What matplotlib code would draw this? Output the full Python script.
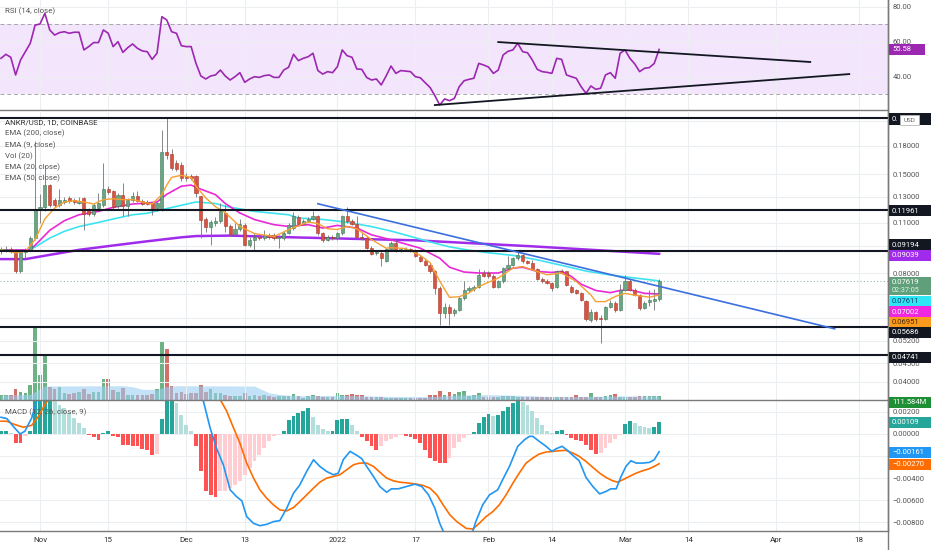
#!/usr/bin/env python
'''
ANKR/USD 1D (Coinbase) chart: RSI pane, candles with EMAs and volume, MACD pane
'''
import numpy as np
import pandas as pd
import matplotlib
matplotlib.use('Agg')
import matplotlib.pyplot as plt
import matplotlib.dates as mdates
from matplotlib.patches import Rectangle
from matplotlib.lines import Line2D
from matplotlib.ticker import FixedLocator, FuncFormatter, NullLocator, NullFormatter

plt.rcParams['font.family'] = ['Roboto', 'DejaVu Sans']

# ---------------- data ----------------
dates = pd.date_range('2021-10-24', periods=136, freq='D')

opens = [0.0925,0.0928,0.0935,0.0925,0.0811,0.0914,0.0927,0.0999,0.1197,0.1215,
         0.1398,0.1276,0.1236,0.1260,0.1289,0.1270,0.1249,0.1289,0.1197,0.1167,
         0.1209,0.1230,0.1368,0.1345,0.1223,0.1317,0.1223,0.1276,0.1308,0.1267,
         0.1257,0.1249,0.1209,0.1202,0.1728,0.1707,0.1611,0.1594,0.1487,0.1481,
         0.1481,0.1303,0.1130,0.1069,0.1099,0.1116,0.1172,0.1076,0.1028,0.1060,
         0.1088,0.0957,0.0985,0.1009,0.0999,0.1020,0.1016,0.1000,0.1000,0.1035,
         0.1065,0.1140,0.1095,0.1115,0.1130,0.1147,0.1031,0.0990,0.1009,0.1000,
         0.1031,0.1147,0.1111,0.1095,0.1009,0.1000,0.0937,0.0910,0.0910,0.0866,
         0.0930,0.0968,0.0925,0.0925,0.0930,0.0917,0.0888,0.0866,0.0843,0.0808,
         0.0727,0.0619,0.0646,0.0622,0.0633,0.0682,0.0719,0.0722,0.0730,0.0800,
         0.0800,0.0787,0.0734,0.0758,0.0825,0.0843,0.0878,0.0898,0.0861,0.0852,
         0.0820,0.0770,0.0762,0.0750,0.0730,0.0808,0.0808,0.0734,0.0719,0.0703,
         0.0670,0.0594,0.0626,0.0600,0.0598,0.0646,0.0660,0.0633,0.0719,0.0758,
         0.0719,0.0696,0.0640,0.0665,0.0668,0.0678]
highs = [0.0945,0.0950,0.0945,0.0935,0.0925,0.0940,0.1010,0.1850,0.1320,0.1594,
         0.1410,0.1290,0.1368,0.1300,0.1310,0.1290,0.1300,0.1300,0.1210,0.1250,
         0.1331,0.1611,0.1390,0.1360,0.1330,0.1419,0.1290,0.1340,0.1345,0.1280,
         0.1270,0.1260,0.1260,0.1993,0.2140,0.1760,0.1640,0.1620,0.1510,0.1500,
         0.1490,0.1310,0.1140,0.1120,0.1140,0.1250,0.1230,0.1090,0.1100,0.1130,
         0.1100,0.1009,0.1030,0.1025,0.1050,0.1035,0.1030,0.1020,0.1045,0.1100,
         0.1180,0.1160,0.1125,0.1145,0.1190,0.1160,0.1040,0.1020,0.1020,0.1040,
         0.1160,0.1215,0.1125,0.1150,0.1030,0.1010,0.0950,0.0925,0.0920,0.0940,
         0.0978,0.0985,0.0940,0.0945,0.0940,0.0930,0.0895,0.0875,0.0850,0.0815,
         0.0735,0.0660,0.0655,0.0640,0.0690,0.0758,0.0735,0.0740,0.0820,0.0815,
         0.0810,0.0795,0.0765,0.0830,0.0889,0.0885,0.0915,0.0905,0.0870,0.0870,
         0.0825,0.0778,0.0770,0.0755,0.0815,0.0820,0.0812,0.0740,0.0722,0.0708,
         0.0675,0.0635,0.0630,0.0612,0.0650,0.0672,0.0668,0.0745,0.0790,0.0770,
         0.0725,0.0700,0.0670,0.0719,0.0722,0.0770]
lows = [0.0905,0.0915,0.0910,0.0802,0.0802,0.0880,0.0920,0.0985,0.1100,0.1190,
        0.1220,0.1220,0.1220,0.1240,0.1250,0.1240,0.1240,0.1054,0.1150,0.1150,
        0.1190,0.1220,0.1320,0.1200,0.1210,0.1147,0.1147,0.1260,0.1255,0.1230,
        0.1230,0.1160,0.1190,0.1190,0.1650,0.1540,0.1530,0.1440,0.1440,0.1450,
        0.1300,0.0999,0.1040,0.0957,0.1080,0.1100,0.1040,0.1010,0.1015,0.1045,
        0.0950,0.0947,0.0927,0.0990,0.0985,0.0995,0.0990,0.0937,0.0990,0.1025,
        0.1055,0.1080,0.1085,0.1105,0.1120,0.1020,0.0975,0.0980,0.0990,0.0990,
        0.1020,0.1100,0.1085,0.0995,0.0985,0.0930,0.0895,0.0900,0.0834,0.0860,
        0.0920,0.0915,0.0915,0.0918,0.0912,0.0885,0.0860,0.0838,0.0800,0.0700,
        0.0575,0.0600,0.0575,0.0610,0.0628,0.0675,0.0710,0.0715,0.0725,0.0780,
        0.0775,0.0725,0.0725,0.0750,0.0815,0.0835,0.0870,0.0850,0.0845,0.0815,
        0.0765,0.0750,0.0745,0.0715,0.0725,0.0795,0.0735,0.0705,0.0698,0.0668,
        0.0590,0.0585,0.0590,0.0512,0.0592,0.0640,0.0625,0.0628,0.0712,0.0712,
        0.0690,0.0633,0.0635,0.0650,0.0633,0.0670]
closes = [0.0930,0.0935,0.0925,0.0811,0.0914,0.0927,0.0999,0.1197,0.1215,0.1398,
          0.1236,0.1236,0.1276,0.1276,0.1267,0.1260,0.1267,0.1167,0.1167,0.1236,
          0.1249,0.1368,0.1340,0.1215,0.1317,0.1223,0.1276,0.1308,0.1267,0.1241,
          0.1241,0.1202,0.1249,0.1728,0.1692,0.1561,0.1554,0.1465,0.1465,0.1465,
          0.1331,0.1123,0.1069,0.1106,0.1116,0.1184,0.1076,0.1028,0.1060,0.1090,
          0.0957,0.0985,0.1009,0.0999,0.1020,0.1005,0.1000,0.1005,0.1035,0.1088,
          0.1147,0.1095,0.1115,0.1130,0.1147,0.1031,0.0990,0.1009,0.1000,0.1031,
          0.1147,0.1111,0.1095,0.1009,0.1000,0.0937,0.0902,0.0915,0.0880,0.0930,
          0.0968,0.0925,0.0930,0.0935,0.0920,0.0892,0.0866,0.0843,0.0808,0.0727,
          0.0619,0.0646,0.0622,0.0633,0.0682,0.0719,0.0726,0.0734,0.0790,0.0787,
          0.0783,0.0734,0.0758,0.0825,0.0843,0.0878,0.0898,0.0861,0.0852,0.0820,
          0.0770,0.0758,0.0750,0.0726,0.0808,0.0800,0.0742,0.0711,0.0703,0.0674,
          0.0596,0.0626,0.0596,0.0598,0.0646,0.0660,0.0633,0.0719,0.0758,0.0719,
          0.0696,0.0640,0.0660,0.0675,0.0678,0.0762]

# volume in millions
volume_m = [130,130,130,300,232,188,412,2044,692,1232,
            364,300,364,204,176,204,224,300,160,232,
            232,580,580,272,232,344,140,140,140,140,
            140,176,300,1632,1420,392,204,224,176,188,
            204,412,232,316,204,204,140,112,112,112,
            188,112,140,112,140,112,92,112,112,112,
            176,112,64,112,140,112,92,92,75,188,
            140,140,168,140,150,92,92,75,75,64,
            56,47,47,56,56,56,56,56,140,140,
            260,140,216,168,232,260,112,140,188,92,
            92,92,92,112,112,112,92,75,75,75,
            75,75,75,75,75,75,75,75,140,92,
            92,188,92,92,112,140,168,92,75,75,
            92,112,112,112,112,111.584]
# Vol (20) average, read at a few days (day index from first candle)
volma_day = [0, 6, 9, 25, 27, 29, 32, 34, 36, 52, 55, 58, 62, 70, 80, 88, 94, 100, 106, 112, 120, 128, 135]
volma_m = [130, 160, 390, 400, 370, 300, 290, 380, 400, 390, 200, 140, 120, 130, 100, 95, 140, 150, 130, 100, 100, 115, 110]

# EMAs (day index, value)
ema9_day = [0,3,5,7,9,11,13,15,17,19,21,23,25,27,29,31,33,34,35,37,39,40,42,44,46,49,52,56,59,63,
            65,67,69,71,73,76,79,80,83,86,88,90,92,94,96,98,102,105,107,109,112,115,118,121,122,
            124,126,128,130,133,135]
ema9 = [0.0927,0.0910,0.0918,0.0990,0.1130,0.1209,0.1257,0.1267,0.1257,0.1241,0.1276,0.1283,0.1276,
        0.1276,0.1257,0.1241,0.1317,0.1400,0.1470,0.1490,0.1470,0.1390,0.1290,0.1220,0.1175,0.1076,
        0.1028,0.1009,0.1054,0.1107,0.1095,0.1060,0.1055,0.1076,0.1060,0.0990,0.0937,0.0940,0.0935,
        0.0895,0.0855,0.0760,0.0685,0.0688,0.0705,0.0734,0.0775,0.0825,0.0834,0.0816,0.0791,0.0800,
        0.0758,0.0696,0.0667,0.0667,0.0689,0.0703,0.0695,0.0686,0.0695]
ema20_day = [0,6,8,10,13,16,20,23,27,30,32,34,37,39,40,44,46,49,52,56,59,63,66,69,73,76,80,83,86,90,
             92,95,98,102,105,107,110,113,115,117,119,122,125,127,129,132,135]
ema20 = [0.0925,0.0927,0.0985,0.1050,0.1116,0.1159,0.1184,0.1215,0.1241,0.1249,0.1257,0.1320,0.1390,
         0.1400,0.1380,0.1317,0.1245,0.1172,0.1124,0.1088,0.1076,0.1088,0.1065,0.1083,0.1065,0.1020,
         0.0988,0.0962,0.0937,0.0879,0.0830,0.0805,0.0800,0.0800,0.0825,0.0830,0.0808,0.0803,0.0808,
         0.0783,0.0745,0.0716,0.0706,0.0716,0.0719,0.0703,0.0700]
ema50_day = [0,6,10,13,16,20,23,27,30,33,37,40,44,46,52,59,61,66,71,76,80,84,88,92,96,100,105,110,
             115,120,125,130,135]
ema50 = [0.0925,0.0927,0.0999,0.1043,0.1075,0.1104,0.1128,0.1159,0.1170,0.1197,0.1231,0.1257,0.1245,
         0.1223,0.1184,0.1159,0.1135,0.1125,0.1105,0.1075,0.1045,0.1010,0.0975,0.0945,0.0925,0.0910,
         0.0895,0.0870,0.0840,0.0810,0.0790,0.0775,0.0761]
ema200_day = [0,5,10,16,23,30,37,40,47,61,85,109,135]
ema200 = [0.0874,0.0874,0.0898,0.0927,0.0953,0.0979,0.1004,0.1012,0.1015,0.1003,0.0985,0.0948,0.0904]

# horizontal levels and drawn trend lines
levels = [0.2140, 0.11961, 0.09194, 0.05686, 0.04741]
last_price = 0.07619
price_trend = [('2021-12-28', 0.1243), ('2022-04-13', 0.0561)]
rsi_trend_hi = [('2022-02-03', 59.8), ('2022-04-08', 48.4)]
rsi_trend_lo = [('2022-01-21', 23.8), ('2022-04-16', 41.5)]

rsi = [50.5,52.8,51.1,41.0,49.5,54.3,59.1,69.5,70.1,76.2,
       66.7,63.8,65.2,65.7,64.8,65.4,65.4,55.3,57.2,59.5,
       59.5,66.7,64.8,57.2,60.0,53.9,56.6,58.7,56.2,54.7,
       54.3,49.9,53.4,74.3,72.4,65.7,64.8,57.7,57.2,57.2,
       47.6,40.4,38.7,40.4,41.0,43.8,40.4,38.1,40.0,42.3,
       36.8,38.7,40.0,39.6,40.6,41.0,39.6,39.6,43.8,45.4,
       52.8,49.2,50.5,51.4,53.4,43.5,41.5,42.9,42.3,45.7,
       55.3,52.0,51.1,44.4,44.2,39.6,38.1,38.7,35.3,40.4,
       46.1,41.9,43.5,43.2,42.9,40.0,39.4,36.6,33.9,29.2,
       23.8,27.3,26.3,27.6,34.3,37.7,38.5,39.1,47.6,46.7,
       45.5,41.9,43.8,52.4,54.5,55.3,59.1,54.3,53.7,49.5,
       44.2,42.9,42.5,41.9,50.5,49.9,41.0,40.0,39.1,34.3,
       30.5,34.7,32.8,33.4,41.0,42.3,39.1,53.4,55.3,50.5,
       47.3,42.9,44.8,45.2,47.6,55.58]

macd_hist = [0.00024,0.00024,0.0001,-0.00082,-0.00082,-0.00022,0.00024,0.0035,0.0035,0.0035,
             0.0035,0.00297,0.00266,0.00236,0.0019,0.00145,0.001,0.00054,-0.00012,-0.0003,
             -0.00052,0.00009,0.00024,-0.00022,-0.0003,-0.00097,-0.00103,-0.00105,-0.00112,-0.00134,
             -0.00143,-0.00188,-0.0018,0.00139,0.0033,0.0033,0.00282,0.00175,0.00085,0.0003,
             -0.00112,-0.00334,-0.00521,-0.00552,-0.00567,-0.00521,-0.00515,-0.00491,-0.00461,-0.00425,
             -0.0037,-0.00309,-0.00249,-0.00188,-0.00127,-0.00067,-0.00022,-0.00006,0.0003,0.0013,
             0.0016,0.0019,0.00212,0.00236,0.00151,0.00085,0.00048,0.00024,0.0003,0.0013,
             0.00139,0.00139,0.00078,0.00024,-0.0003,-0.00067,-0.00112,-0.00143,-0.00112,-0.00067,
             -0.00043,-0.00025,-0.00012,-0.00022,-0.0003,-0.00043,-0.00082,-0.00143,-0.00218,-0.00249,
             -0.00264,-0.00264,-0.00218,-0.00127,-0.0007,-0.00037,-0.0001,0.00018,0.001,0.00151,
             0.00182,0.00166,0.0017,0.00212,0.00242,0.00282,0.0031,0.00291,0.0026,0.00212,
             0.00145,0.00078,0.0003,0.00005,0.00024,0.00039,-0.00012,-0.00037,-0.00052,-0.00067,
             -0.00097,-0.00143,-0.00182,-0.00173,-0.00127,-0.00082,-0.00043,-0.00006,0.00091,0.00115,
             0.001,0.00069,0.0006,0.00054,0.0006,0.00109]

macd_day = [0,1.2,2.5,3.9,4.9,6.3,7.3,8.5,10,14,20,26,32,35,38,41.5,42.9,44.2,45.6,47,48.3,49.4,50.4,
            51.8,53.1,54.5,55.9,57.2,58.6,60,61.3,62.7,64.1,65.4,66.8,68.2,69.2,70.2,71.6,73,74,75,76.4,
            77.7,79.1,80.1,81.5,83.2,84.9,86.3,87.7,89,90,90.7,92,93.5,95,96.8,97.4,98.8,100.2,101.9,
            102.9,104.3,106,107.4,108.4,109.1,110.4,111.8,113,113.9,115.1,116.3,117.3,118.6,120,121.4,
            122.8,124.1,125.1,126.2,127.2,128.2,129.2,130.3,131.6,133,134,135]
macd_line = [0.00151,0.00139,0.00069,0.0,0.00024,0.00145,0.00297,0.0042,0.0058,0.0068,0.0064,0.0058,
             0.0052,0.0060,0.0048,0.0030,0.00054,-0.00128,-0.00279,-0.00506,-0.00567,-0.00606,-0.00749,
             -0.0081,-0.00831,-0.00819,-0.00794,-0.00785,-0.00673,-0.00537,-0.00461,-0.0034,-0.00234,
             -0.00294,-0.0034,-0.0037,-0.00355,-0.00234,-0.00158,-0.00194,-0.00224,-0.00294,-0.00385,
             -0.00476,-0.00528,-0.00497,-0.00497,-0.00476,-0.00455,-0.00476,-0.00552,-0.00673,-0.0081,
             -0.0088,-0.0094,-0.0097,-0.0095,-0.00879,-0.00794,-0.00643,-0.00552,-0.00506,-0.00415,
             -0.00294,-0.00112,-0.00052,-0.00022,-0.00022,-0.00067,-0.00112,-0.00158,-0.00134,-0.00112,
             -0.00152,-0.00194,-0.00243,-0.00394,-0.00476,-0.00543,-0.00521,-0.00497,-0.00497,-0.00385,
             -0.00294,-0.00243,-0.00264,-0.00264,-0.00258,-0.00234,-0.00161]
signal_day = [0,1.2,2.5,4.6,6.3,7.7,9,12,20,30,38,42,44.6,46.3,47.7,49,50.4,51.8,53.1,54.5,55.9,57.2,
              58.6,60,61.3,62.7,64.1,65.4,66.8,68.2,69.5,70.9,72.3,73.6,75,76.4,77.7,79.1,80.5,81.8,
              83.2,85.3,86.6,88,89.4,90.7,92.1,93.5,95.4,96.8,98.1,99.5,100.9,102.2,103.6,105,106.3,
              107.7,109.1,110.4,111.8,113.2,114.5,115.9,117.3,118.6,120,121.4,122.8,124.1,125.5,126.5,
              127.5,128.9,130.3,131.6,133,134,135]
signal_line = [0.00115,0.00115,0.0009,0.0006,0.00078,0.0016,0.00266,0.0045,0.0060,0.0061,0.0058,0.0045,
               0.0034,0.00206,0.00054,-0.00082,-0.00264,-0.004,-0.00506,-0.00582,-0.00643,-0.00688,
               -0.00697,-0.00667,-0.00613,-0.00552,-0.00491,-0.00437,-0.004,-0.00385,-0.0037,-0.00325,
               -0.00279,-0.00264,-0.00264,-0.00294,-0.00346,-0.004,-0.00425,-0.00437,-0.00443,-0.00455,
               -0.00467,-0.00491,-0.00552,-0.00643,-0.00734,-0.00794,-0.00855,-0.00861,-0.0081,-0.00749,
               -0.00703,-0.00643,-0.00552,-0.00446,-0.00355,-0.00264,-0.00218,-0.00182,-0.00164,-0.00158,
               -0.00152,-0.00149,-0.00173,-0.00203,-0.00249,-0.00303,-0.00355,-0.00394,-0.00425,-0.00437,
               -0.00416,-0.00385,-0.00355,-0.00334,-0.00315,-0.00294,-0.0027]

tick_dates = ['2021-11-01','2021-11-15','2021-12-01','2021-12-13','2022-01-01','2022-01-17',
              '2022-02-01','2022-02-14','2022-03-01','2022-03-14','2022-04-01','2022-04-18']
tick_labels = ['Nov','15','Dec','13','2022','17','Feb','14','Mar','14','Apr','18']
price_ticks = [0.04, 0.045, 0.052, 0.06, 0.07, 0.08, 0.095, 0.11, 0.13, 0.15, 0.18, 0.21]
price_ticks_hidden = [0.06, 0.07, 0.095, 0.21]      # covered by value tags in the reference
rsi_ticks = [40, 60, 80]
macd_ticks = [0.002, 0.0, -0.002, -0.004, -0.006, -0.008]
macd_ticks_hidden = [-0.002]

# ---------------- colours ----------------
UP, DN = '#6BA583', '#D75442'
UP_EDGE, DN_EDGE = '#3F7A57', '#A8392A'
WICK = '#737375'
GRID = '#ECEEF2'
SEP = '#7A7A7A'
C_EMA9, C_EMA20, C_EMA50, C_EMA200 = '#F5A033', '#E928D8', '#3EE3F0', '#A12BEB'
C_RSI = '#9C27B0'
C_BLUE = '#3B6FE0'

W, H = 932, 550
fig = plt.figure(figsize=(W/100, H/100), dpi=100)

def rect(top, bottom, right=888):
    return [0, 1 - bottom/H, right/W, (bottom - top)/H]

ax_r = fig.add_axes(rect(0, 110))
ax_p = fig.add_axes(rect(110.5, 400))
ax_m = fig.add_axes(rect(400.5, 531))

# volume overlay shares the price pane (twinx moves the host's ticks, so style afterwards)
ax_v = ax_p.twinx()

x = mdates.date2num(dates)
x0 = x[0]
xlim = (x0 - 0.205, x0 + 181.95)
tx = mdates.date2num(pd.to_datetime(tick_dates))

def day(d):
    return x0 + np.asarray(d, dtype=float)

def pts(pairs):
    return (mdates.date2num(pd.to_datetime([p[0] for p in pairs])), [p[1] for p in pairs])

def fmt5(hidden):
    def f(v, _):
        if any(abs(v - h) < 1e-9 for h in hidden):
            return ''
        return f'{v:.5f}'.replace('-', '\u2212')
    return FuncFormatter(f)

for ax in (ax_r, ax_p, ax_m):
    ax.set_xlim(*xlim)
    ax.xaxis.set_major_locator(FixedLocator(tx))
    ax.grid(True, axis='both', color=GRID, lw=0.8, zorder=0)
    ax.set_axisbelow(True)
    for s in ('top', 'left'):
        ax.spines[s].set_visible(False)
    for s in ('bottom', 'right'):
        ax.spines[s].set_color(SEP)
        ax.spines[s].set_linewidth(1.0)
    ax.yaxis.tick_right()
    ax.tick_params(axis='y', left=False, labelleft=False, right=True, labelright=True,
                   length=0, pad=3.5, labelsize=5.5, labelcolor='#555555')
    ax.tick_params(axis='x', length=0)
ax_r.xaxis.set_major_formatter(NullFormatter())
ax_p.xaxis.set_major_formatter(NullFormatter())
ax_m.set_xticklabels(tick_labels)
ax_m.tick_params(axis='x', pad=4, labelsize=5.8, labelcolor='#333333')

# ---------------- RSI pane ----------------
ax_r.set_ylim(20.97, 83.83)
ax_r.axhspan(30, 70, color='#F3E6FC', zorder=0.5, lw=0)
for lv in (70, 30):
    ax_r.axhline(lv, color='#A7A7A7', lw=0.7, ls=(0, (4, 3)), zorder=1)
ax_r.plot(x, rsi, color=C_RSI, lw=1.2, zorder=3)
for seg in (rsi_trend_hi, rsi_trend_lo):
    sx, sy = pts(seg)
    ax_r.plot(sx, sy, color='#131722', lw=1.3, zorder=4)
ax_r.yaxis.set_major_locator(FixedLocator(rsi_ticks))
ax_r.yaxis.set_major_formatter(FuncFormatter(lambda v, _: f'{v:.2f}'))

# ---------------- price pane with volume overlay ----------------
ax_v.set_ylim(0, 2044 * 289 / 73)
ax_v.set_yticks([])
ax_v.tick_params(axis='both', length=0, labelleft=False, labelright=False)
for s in ax_v.spines.values():
    s.set_visible(False)
o = np.array(opens); c = np.array(closes); hi = np.array(highs); lo = np.array(lows)
up = c >= o
ax_v.bar(x, volume_m, width=0.75, color=np.where(up, '#5DAA78', '#CC6257'), alpha=0.9, lw=0, zorder=2)
ax_v.fill_between(day(volma_day), 0, volma_m, color='#9CCFF3', alpha=0.6, lw=0, zorder=3)

ax_p.set_zorder(ax_v.get_zorder() + 1)
ax_p.patch.set_visible(False)
ax_p.set_yscale('log')
ax_p.set_ylim(0.03566, 0.2250)
ax_p.yaxis.set_major_locator(FixedLocator(price_ticks))
ax_p.yaxis.set_minor_locator(NullLocator())
ax_p.yaxis.set_major_formatter(fmt5(price_ticks_hidden))
ax_p.yaxis.set_minor_formatter(NullFormatter())
ax_p.yaxis.tick_right()
ax_p.tick_params(axis='y', left=False, labelleft=False, right=True, labelright=True,
                 length=0, pad=3.5, labelsize=5.5, labelcolor='#555555')

ax_p.axhline(last_price, color='#93B7A0', lw=0.8, ls=(0, (1, 2)), zorder=2)
for lv in levels:
    ax_p.axhline(lv, color='#131722', lw=1.5, zorder=6)

ax_p.plot(day(ema200_day), ema200, color=C_EMA200, lw=1.8, zorder=3)
ax_p.plot(day(ema50_day), ema50, color=C_EMA50, lw=1.2, zorder=3)
ax_p.plot(day(ema20_day), ema20, color=C_EMA20, lw=1.2, zorder=3)

ax_p.vlines(x, lo, hi, color=WICK, lw=0.6, zorder=4)
blo = np.minimum(o, c); bhi = np.maximum(o, c)
ax_p.bar(x, bhi - blo, bottom=blo, width=0.62, color=np.where(up, UP, DN),
         edgecolor=np.where(up, UP_EDGE, DN_EDGE), lw=0.4, zorder=5)
ax_p.plot(day(ema9_day), ema9, color=C_EMA9, lw=1.0, zorder=5.5)

tx_, ty_ = pts(price_trend)
ax_p.plot(tx_, ty_, color=C_BLUE, lw=1.2, zorder=6)

# ---------------- MACD pane ----------------
ax_m.set_ylim(-0.008791, 0.003027)
hist = np.array(macd_hist)
prev = np.r_[hist[0], hist[:-1]]
cols = np.where(hist >= 0, np.where(hist >= prev, '#26A69A', '#B2DFDB'),
                np.where(hist <= prev, '#FF5252', '#FFCDD2'))
ax_m.bar(x, hist, width=0.8, color=cols, lw=0, zorder=2)
ax_m.plot(day(signal_day), signal_line, color='#FF6D00', lw=1.2, zorder=3)
ax_m.plot(day(macd_day), macd_line, color='#2196F3', lw=1.2, zorder=4)
ax_m.yaxis.set_major_locator(FixedLocator(macd_ticks))
ax_m.yaxis.set_major_formatter(fmt5(macd_ticks_hidden))

# right border continues through the time axis
fig.add_artist(Line2D([888/W, 888/W], [0, 1], transform=fig.transFigure, color=SEP, lw=1.0))

# ---------------- pane legends ----------------
def legend(txt, ypx, color='#555555'):
    fig.text(5/W, 1 - ypx/H, txt, fontsize=5.7, color=color, va='center', ha='left', zorder=7)

legend('RSI (14, close)', 11)
legend('ANKR/USD, 1D, COINBASE', 122, '#333333')
for i, t in enumerate(['EMA (200, close)', 'EMA (9, close)', 'Vol (20)', 'EMA (20, close)', 'EMA (50, close)']):
    legend(t, 133.5 + i * 11.2)
legend('MACD (12, 26, close, 9)', 412)

# ---------------- right-hand value tags ----------------
def tag(txt, ypx, face, color='white', h=11, w=42):
    fig.add_artist(Rectangle((889/W, 1 - (ypx + h/2)/H), w/W, h/H, transform=fig.transFigure,
                             facecolor=face, edgecolor='none', zorder=8))
    fig.text(892/W, 1 - ypx/H, txt, fontsize=5.5, color=color, va='center', ha='left', zorder=9)

tag('0.', 119, '#131722')
fig.add_artist(Rectangle((900/W, 1 - 125/H), 19/W, 10/H, transform=fig.transFigure,
                         facecolor='white', edgecolor='#B8B8B8', lw=0.6, zorder=9))
fig.text(909.5/W, 1 - 120/H, 'USD', fontsize=4.6, color='#666666', va='center', ha='center', zorder=10)
tag('0.11961', 210.7, '#131722')
tag('0.09194', 244.7, '#131722')
tag('0.09039', 255, C_EMA200)
fig.add_artist(Rectangle((889/W, 1 - 295/H), 42/W, 18/H, transform=fig.transFigure,
                         facecolor='#5FA07A', edgecolor='none', zorder=8))
fig.text(892/W, 1 - 281.5/H, '0.07619', fontsize=5.5, color='white', va='center', ha='left', zorder=9)
fig.text(892/W, 1 - 290.5/H, '02:37:05', fontsize=5.2, color='#E3F1E8', va='center', ha='left', zorder=9)
tag('0.07611', 301, '#2EE6F5', '#14406B')
tag('0.07002', 311.5, '#F027E0')
tag('0.06951', 322, '#FB9A1C', '#4A2A00')
tag('0.05686', 332.5, '#131722')
tag('0.04741', 357, '#131722')
tag('111.584M', 402.5, '#1E8F35')
tag('55.58', 49.3, C_RSI, w=36)
tag('0.00109', 422.3, '#26A69A')
tag('\u22120.00161', 452.3, '#2196F3')
tag('\u22120.00270', 464.3, '#FF6D00')

fig.savefig('out.png', dpi=100, facecolor='white')
